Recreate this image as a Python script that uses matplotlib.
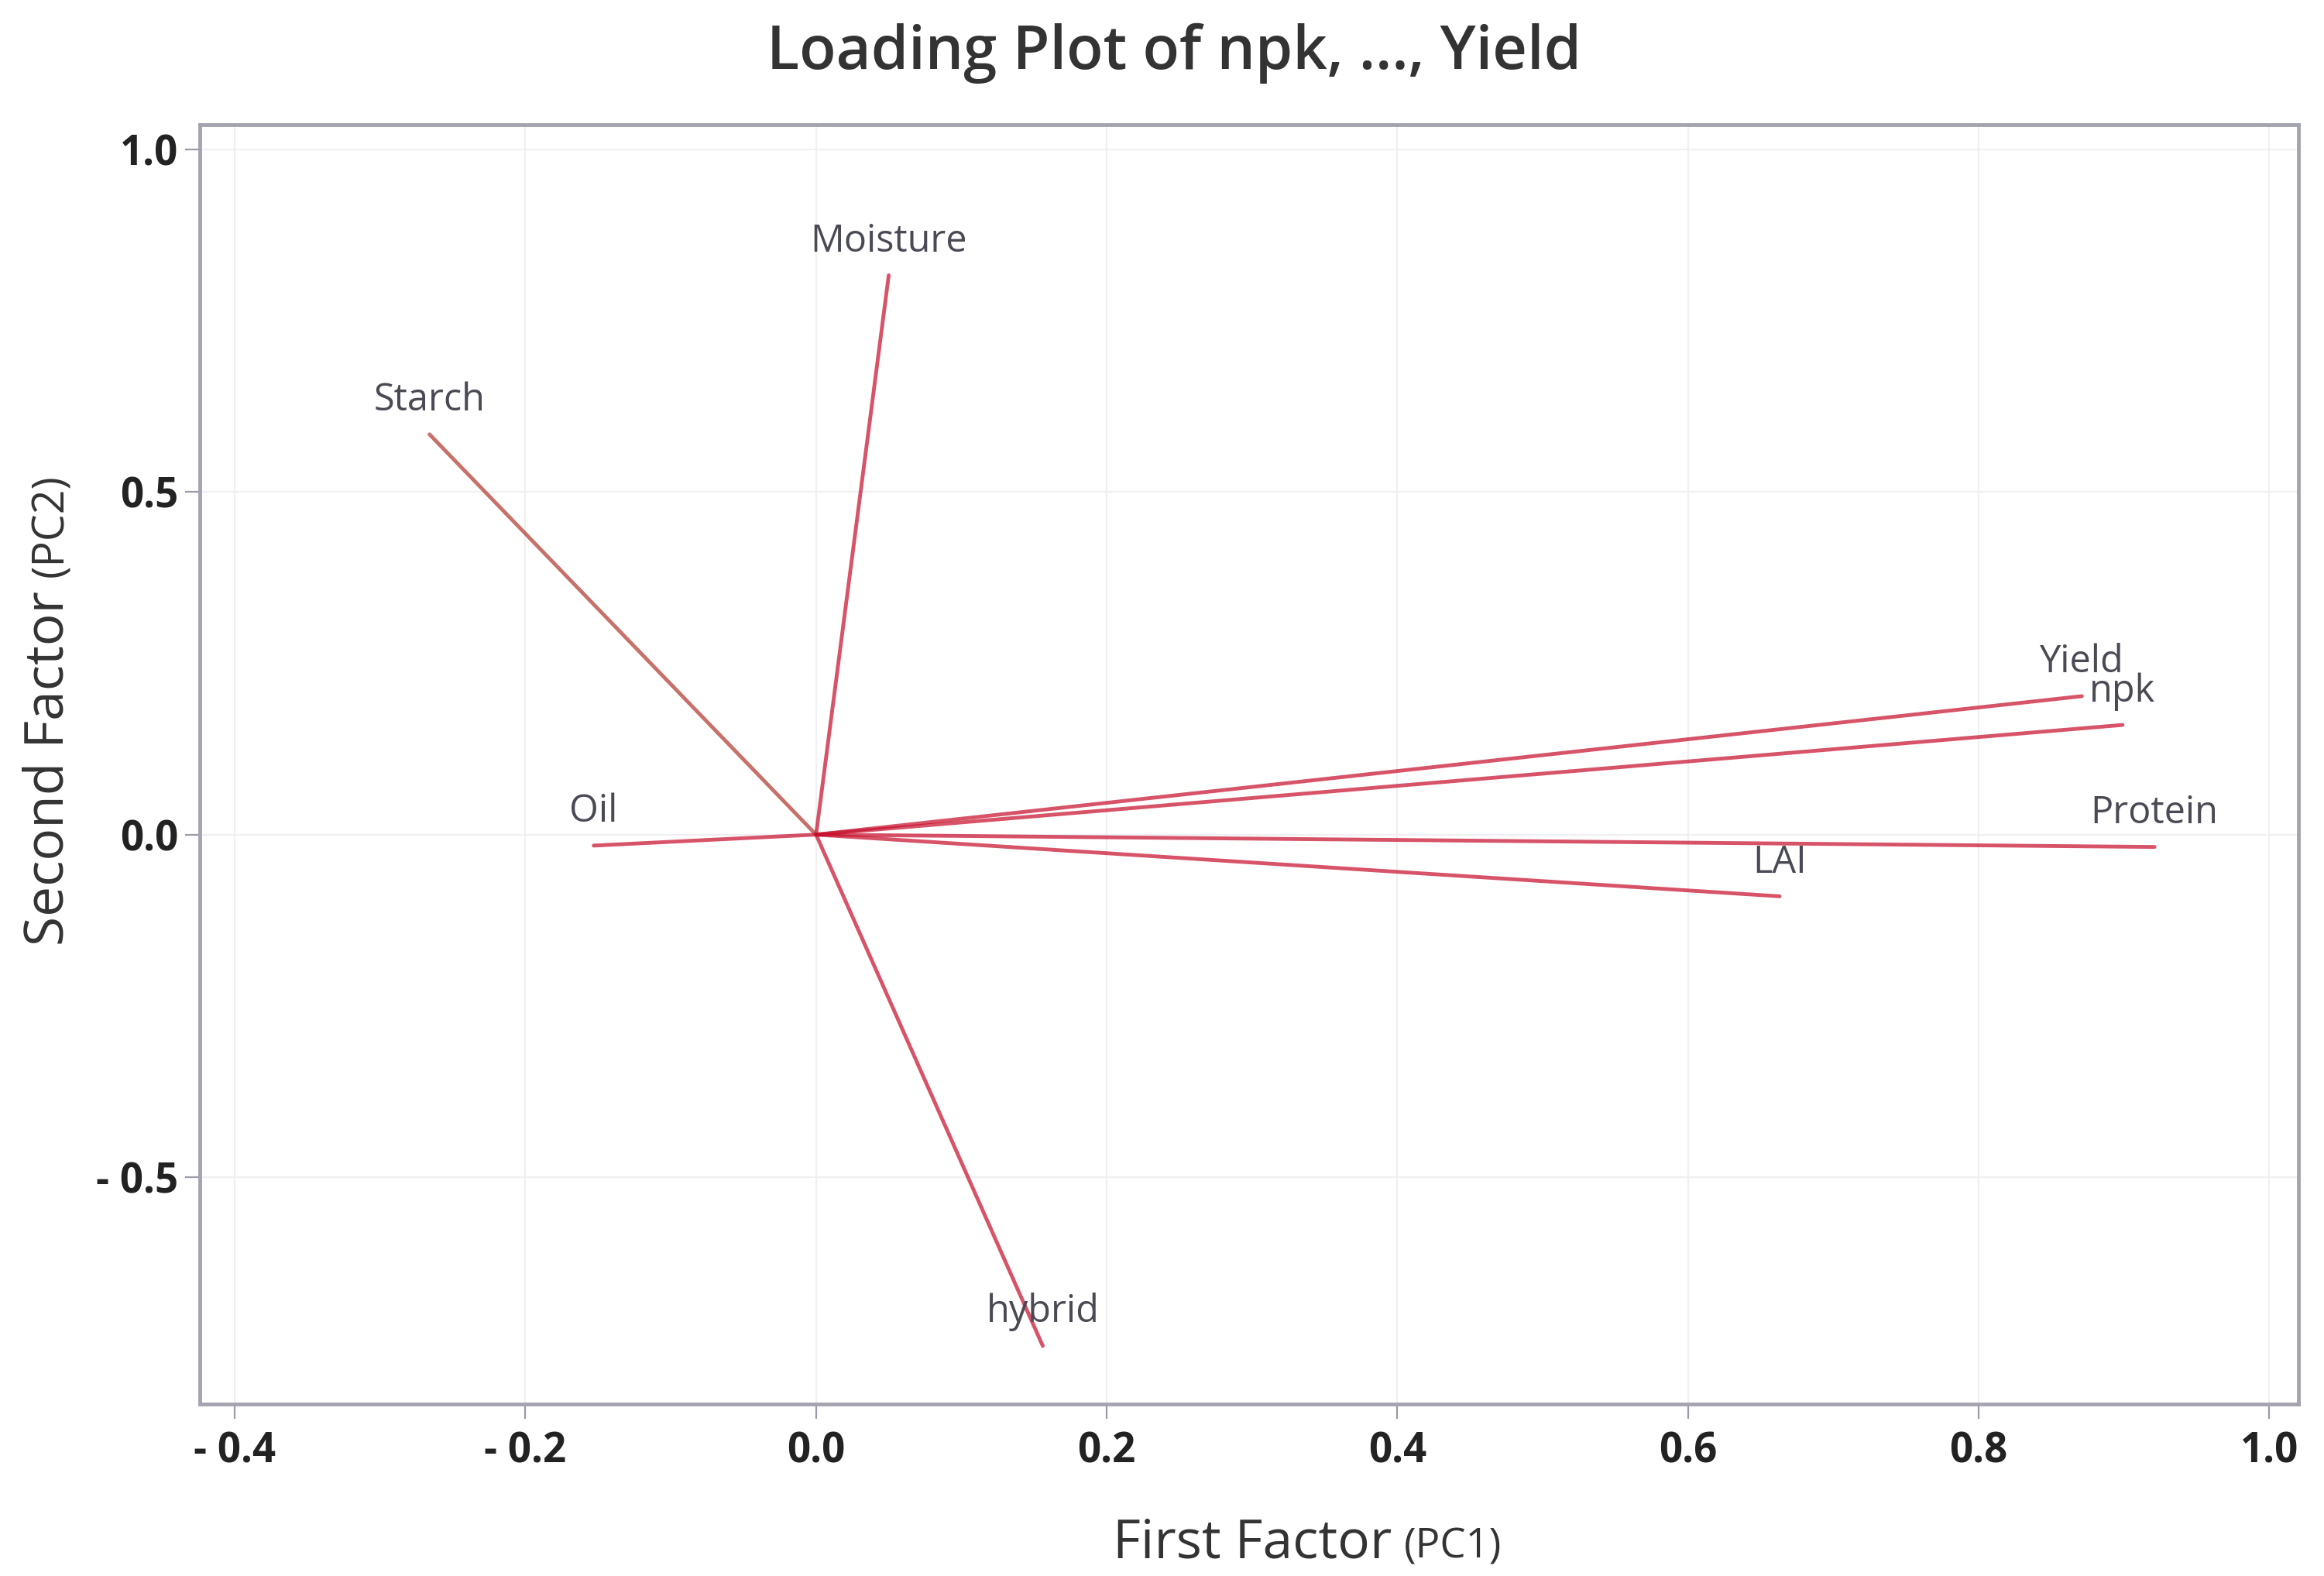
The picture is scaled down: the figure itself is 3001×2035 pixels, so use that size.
import matplotlib
matplotlib.use("Agg")
import matplotlib.pyplot as plt

# loadings (PC1, PC2)
variables = ["npk", "hybrid", "LAI", "Moisture", "Starch", "Protein", "Oil", "Yield"]
pc1 = [0.899, 0.156, 0.663, 0.050, -0.266, 0.921, -0.153, 0.871]
pc2 = [0.160, -0.746, -0.090, 0.816, 0.584, -0.018, -0.016, 0.202]

xticks = [-0.4, -0.2, 0.0, 0.2, 0.4, 0.6, 0.8, 1.0]
xtick_labels = ["- 0.4", "- 0.2", "0.0", "0.2", "0.4", "0.6", "0.8", "1.0"]
yticks = [-0.5, 0.0, 0.5, 1.0]
ytick_labels = ["- 0.5", "0.0", "0.5", "1.0"]

plt.rcParams['font.family'] = ['Open Sans', 'DejaVu Sans']

fig = plt.figure(figsize=(30.01, 20.35), dpi=100)
ax = fig.add_axes([0.086, 0.109, 0.903, 0.812])

for name, x, y in zip(variables, pc1, pc2):
    col = '#b03a30' if name == "Starch" else '#c8102e'
    ax.plot([0, x], [0, y], color=col, alpha=0.72, lw=3.5, solid_capstyle='round', zorder=3)
    ax.annotate(name, (x, y), xytext=(0, 22), textcoords='offset points',
                ha='center', va='baseline', fontsize=35, color='#4a4a55', zorder=4)

ax.set_xlim(-0.424, 1.020)
ax.set_ylim(-0.831, 1.036)
ax.set_xticks(xticks)
ax.set_xticklabels(xtick_labels, fontsize=38, fontweight='bold', color='#222222')
ax.set_yticks(yticks)
ax.set_yticklabels(ytick_labels, fontsize=38, fontweight='bold', color='#222222')
ax.tick_params(axis='both', length=14, width=1.6, color='#9a9aa8', direction='out')
ax.tick_params(axis='x', pad=11)
ax.tick_params(axis='y', pad=6)

ax.grid(True, color='#f0f0f2', lw=1.6, zorder=0)
ax.set_axisbelow(True)
for sp in ax.spines.values():
    sp.set_color('#a4a4b0')
    sp.set_linewidth(3.5)

fig.text(0.505, 0.966, "Loading Plot of npk, ..., Yield", ha='center', va='center',
         fontsize=56, fontweight='semibold', color='#333333')

# axis titles with the smaller "(PCn)" part
fig.text(0.599, 0.0115, "First Factor", ha='right', va='baseline', fontsize=50, color='#333333')
fig.text(0.604, 0.0115, "(PC1)", ha='left', va='baseline', fontsize=38, color='#333333')
fig.text(0.027, 0.400, "Second Factor", ha='left', va='baseline', rotation=90,
         rotation_mode='anchor', fontsize=50, color='#333333')
fig.text(0.027, 0.634, "(PC2)", ha='left', va='baseline', rotation=90,
         rotation_mode='anchor', fontsize=40, color='#333333')

fig.savefig("out.png", dpi=100, facecolor='white')
